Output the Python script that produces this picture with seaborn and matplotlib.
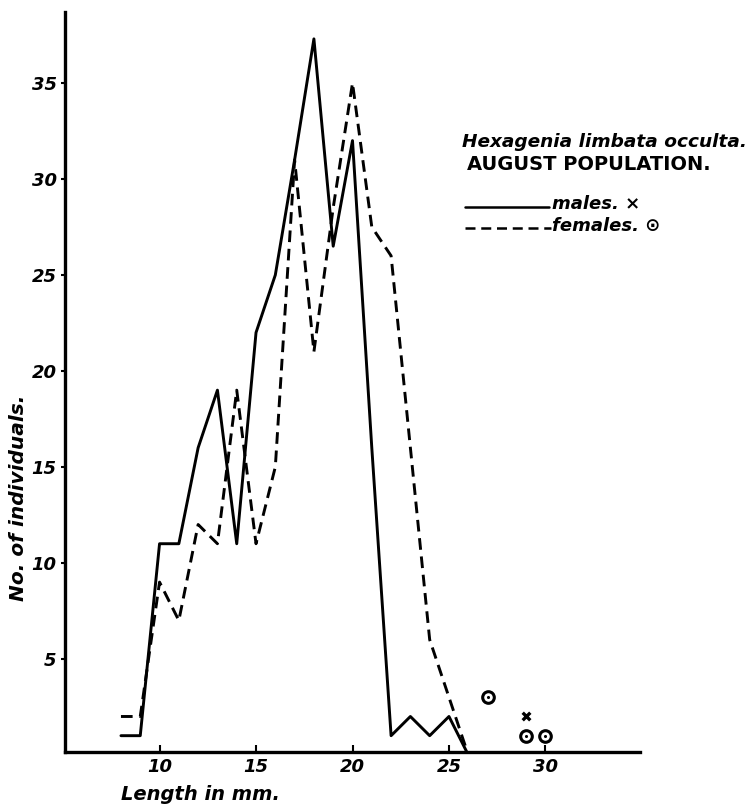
import numpy as np
import pandas as pd
import matplotlib
matplotlib.use('Agg')
import matplotlib.pyplot as plt
from matplotlib.lines import Line2D
import seaborn as sns

# length classes (mm) and counts
lengths = [8, 9, 10, 11, 12, 13, 14, 15, 16, 17, 18, 19, 20, 21, 22, 23, 24, 25, 26]
males = [1, 1, 11, 11, 16, 19, 11, 22, 25, 31, 37.3, 26.5, 32, 16, 1, 2, 1, 2, 0]
females = [2, 2, 9, 7, 12, 11, 19, 11, 15, 31, 21, 28.5, 35, 27.5, 26, 16, 6, 3, 0]

# stray individuals plotted as single marks
male_pts_x = [29]
male_pts_y = [2]
female_pts_x = [27, 29, 30]
female_pts_y = [3, 1, 1]

x_ticks = [10, 15, 20, 25, 30]
y_ticks = [5, 10, 15, 20, 25, 30, 35]

sns.set_style('ticks')
plt.rcParams['font.family'] = ['DejaVu Sans']
for key in ['text.color', 'axes.labelcolor', 'xtick.color', 'ytick.color', 'axes.edgecolor']:
    plt.rcParams[key] = 'black'

df = pd.DataFrame({
    'length': lengths * 2,
    'count': males + females,
    'sex': ['males'] * len(lengths) + ['females'] * len(lengths),
})

fig = plt.figure(figsize=(7.54, 8.08), dpi=100)
ax = fig.add_axes([65 / 754, 56 / 808, 575 / 754, 740 / 808])

sns.lineplot(data=df, x='length', y='count', style='sex', hue='sex',
             palette={'males': 'black', 'females': 'black'},
             dashes={'males': '', 'females': (4, 2.3)},
             linewidth=2.1, legend=False, ax=ax)

sns.scatterplot(x=female_pts_x, y=female_pts_y, marker='o', s=70,
                facecolor='white', edgecolor='black', linewidth=2.2, ax=ax)
sns.scatterplot(x=female_pts_x, y=female_pts_y, marker='o', s=5,
                color='black', linewidth=0, ax=ax)
sns.scatterplot(x=male_pts_x, y=male_pts_y, marker='x', s=30,
                color='black', linewidth=2.4, ax=ax)

ax.set_xlim(5.1, 34.9)
ax.set_ylim(0.15, 38.7)
ax.set_xticks(x_ticks)
ax.set_yticks(y_ticks)
ax.set_xticklabels([str(t) for t in x_ticks], fontsize=13, fontstyle='italic', fontweight='bold')
ax.set_yticklabels([str(t) for t in y_ticks], fontsize=13, fontstyle='italic', fontweight='bold')
ax.tick_params(axis='x', direction='in', length=5, width=1.5, pad=4)
ax.tick_params(axis='y', direction='out', length=3, width=1.5, pad=3)

for side in ['top', 'right']:
    ax.spines[side].set_visible(False)
for side in ['left', 'bottom']:
    ax.spines[side].set_linewidth(2.4)

ax.set_xlabel('Length in mm.', fontsize=14, fontstyle='italic', fontweight='bold')
ax.set_ylabel('No. of individuals.', fontsize=14.5, fontstyle='italic', fontweight='bold')
ax.xaxis.set_label_coords((200 - 65) / 575, -42 / 740)
ax.yaxis.set_label_coords(-46 / 575, (752 - 498) / 740)
ax.yaxis.label.set_va('center')
ax.xaxis.label.set_va('center')

# handwritten key in the upper right
fig.text(462 / 754, 1 - 142 / 808, 'Hexagenia limbata occulta.', fontsize=13.3,
         fontstyle='italic', fontweight='bold', va='center', ha='left')
fig.text(467 / 754, 1 - 164 / 808, 'AUGUST POPULATION.', fontsize=14,
         fontweight='bold', va='center', ha='left')
fig.add_artist(Line2D([465 / 754, 549 / 754], [1 - 207 / 808, 1 - 207 / 808],
                      color='black', linewidth=1.8, transform=fig.transFigure))
fig.add_artist(Line2D([465 / 754, 551 / 754], [1 - 228 / 808, 1 - 228 / 808],
                      color='black', linewidth=1.8, dashes=(4, 2.3),
                      transform=fig.transFigure))
fig.text(552 / 754, 1 - 204 / 808, 'males. \u00d7', fontsize=13,
         fontstyle='italic', fontweight='bold', va='center', ha='left')
fig.text(552 / 754, 1 - 226 / 808, 'females. \u2299', fontsize=13,
         fontstyle='italic', fontweight='bold', va='center', ha='left')

fig.savefig('out.png', dpi=100)
